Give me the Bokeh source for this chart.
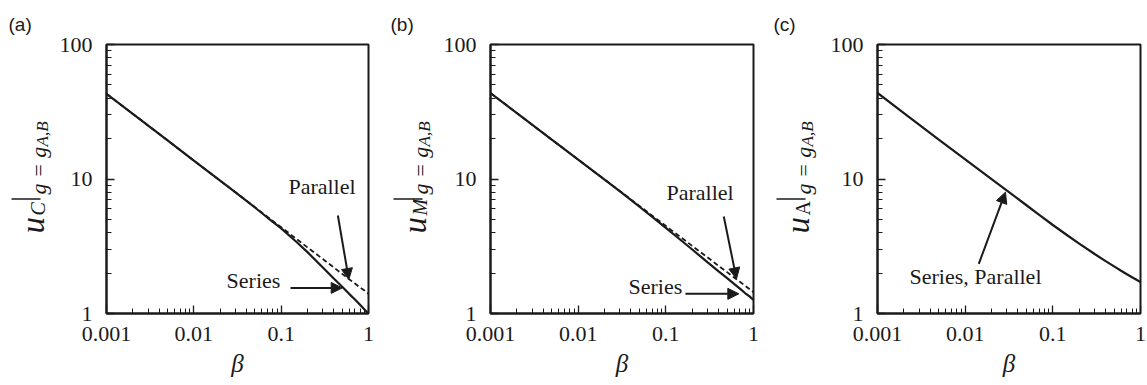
from bokeh.plotting import figure
from bokeh.models import (Range1d, FixedTicker, CustomJSTickFormatter, Label,
                          Arrow, NormalHead)
from bokeh.layouts import row
from bokeh.embed import file_html
from bokeh.resources import INLINE

# ---------------- data ----------------
beta = [0.001, 0.002, 0.005, 0.01, 0.02, 0.03, 0.05, 0.07, 0.1, 0.15,
        0.2, 0.3, 0.4, 0.5, 0.6, 0.7, 0.8, 0.9, 1.0]

uC_series   = [43.0, 30.5, 19.4, 13.7, 9.73, 7.94, 6.14, 5.15, 4.29, 3.40,
               2.86, 2.20, 1.82, 1.58, 1.40, 1.27, 1.16, 1.07, 1.00]
uC_parallel = [43.0, 30.5, 19.4, 13.7, 9.73, 7.96, 6.18, 5.22, 4.38, 3.58,
               3.10, 2.54, 2.20, 1.97, 1.80, 1.67, 1.56, 1.48, 1.40]

uM_series   = [43.5, 30.9, 19.6, 13.95, 9.91, 8.08, 6.22, 5.22, 4.33, 3.49,
               2.99, 2.40, 2.06, 1.83, 1.66, 1.53, 1.42, 1.34, 1.26]
uM_parallel = [43.5, 30.9, 19.6, 13.95, 9.91, 8.12, 6.31, 5.34, 4.48, 3.67,
               3.18, 2.61, 2.26, 2.03, 1.85, 1.72, 1.61, 1.52, 1.44]

uA_both     = [43.6, 30.9, 19.6, 14.0, 9.98, 8.18, 6.38, 5.42, 4.55, 3.77,
               3.31, 2.77, 2.45, 2.24, 2.08, 1.96, 1.86, 1.78, 1.71]

x_ticks = [0.001, 0.01, 0.1, 1]
y_ticks = [1, 10, 100]
panel_tags = ["(a)", "(b)", "(c)"]
sub_letters = ["C", "M", "A"]
x_label = "β"

SERIF = "Liberation Serif"
SANS = "Liberation Sans"
INK = "#1a1a1a"

x_minor = [m * d for d in [0.001, 0.01, 0.1] for m in range(2, 10)]
y_minor = [m * d for d in [1, 10] for m in range(2, 10)]

H = 385
FRAME_H = 269
TOP = 44
BOTTOM = H - TOP - FRAME_H
LBL_W = 52


def label_strip(tag, sub, sub_italic):
    """Narrow figure holding the panel tag and the rotated y-axis label.
    Its frame spans canvas rows TOP..TOP+FRAME_H, so data y == canvas y."""
    f = figure(width=LBL_W, height=H, x_range=Range1d(0, LBL_W),
               y_range=Range1d(TOP + FRAME_H, TOP), output_backend="svg",
               toolbar_location=None, x_axis_location=None,
               y_axis_location=None, min_border_left=0, min_border_right=0,
               min_border_top=TOP, min_border_bottom=BOTTOM)
    f.xgrid.visible = False
    f.ygrid.visible = False
    f.outline_line_color = None
    f.background_fill_color = "white"
    f.border_fill_color = "white"
    f.title.text = tag
    f.title.text_font = SANS
    f.title.text_font_size = "19px"
    f.title.text_font_style = "normal"
    f.title.text_color = INK
    f.title.align = "left"
    f.title.offset = 8
    f.title.standoff = 19
    pieces = [
        ("u", 32, 233, "33px", "italic"),
        (sub, 37, 215, "20px", "italic" if sub_italic else "normal"),
        ("g = g", 38, 194, "22px", "italic"),
        ("A,B", 42, 146, "17px", "italic"),
    ]
    for txt, cx, cy, fs, st in pieces:
        f.add_layout(Label(x=cx, y=cy, text=txt, angle=90, angle_units="deg",
                           text_font=SERIF, text_font_size=fs,
                           text_font_style=st, text_baseline="alphabetic",
                           text_color=INK))
    # the evaluation bar "|" of the label (horizontal once rotated)
    f.segment(x0=[11], y0=[198.5], x1=[40], y1=[198.5],
              line_color=INK, line_width=1.6)
    return f


def make_panel(width, left, right):
    p = figure(width=width, height=H, x_axis_type="log", y_axis_type="log",
               x_range=Range1d(0.001, 1), y_range=Range1d(1, 100),
               output_backend="svg", toolbar_location=None,
               min_border_left=left, min_border_right=right,
               min_border_top=TOP, min_border_bottom=BOTTOM)
    p.xgrid.visible = False
    p.ygrid.visible = False
    p.background_fill_color = "white"
    p.border_fill_color = "white"
    p.outline_line_color = INK
    p.outline_line_width = 2

    p.xaxis.ticker = FixedTicker(ticks=x_ticks, minor_ticks=x_minor)
    p.yaxis.ticker = FixedTicker(ticks=y_ticks, minor_ticks=y_minor)
    fmt = "return tick.toString();"
    p.xaxis.formatter = CustomJSTickFormatter(code=fmt)
    p.yaxis.formatter = CustomJSTickFormatter(code=fmt)
    for ax in (p.xaxis, p.yaxis):
        ax.axis_line_color = INK
        ax.axis_line_width = 2
        ax.major_tick_in = 8
        ax.major_tick_out = 0
        ax.minor_tick_in = 5
        ax.minor_tick_out = 0
        ax.major_tick_line_color = INK
        ax.minor_tick_line_color = INK
        ax.major_tick_line_width = 1.3
        ax.minor_tick_line_width = 1
        ax.major_label_text_font = SERIF
        ax.major_label_text_font_size = "22px"
        ax.major_label_text_color = INK
    p.xaxis.major_label_standoff = 13
    p.yaxis.major_label_standoff = 14

    p.xaxis.axis_label = x_label
    p.xaxis.axis_label_text_font = SERIF
    p.xaxis.axis_label_text_font_size = "25px"
    p.xaxis.axis_label_text_font_style = "italic"
    p.xaxis.axis_label_text_color = INK
    p.xaxis.axis_label_standoff = 6
    return p


def arrow(p, xs, ys, xe, ye):
    p.add_layout(Arrow(end=NormalHead(size=11, fill_color=INK,
                                      line_color=INK, line_width=1),
                       x_start=xs, y_start=ys, x_end=xe, y_end=ye,
                       line_width=2, line_color=INK))


def text(p, x, y, t):
    p.add_layout(Label(x=x, y=y, text=t, text_font=SERIF,
                       text_font_size="22px", text_color=INK))


# ---- panel (a)
la = label_strip(panel_tags[0], sub_letters[0], True)
pa = make_panel(382 - LBL_W, 106 - LBL_W, 14)
pa.line(beta, uC_parallel, line_color=INK, line_width=1.8, line_dash="5 3")
pa.line(beta, uC_series, line_color=INK, line_width=2.2)
text(pa, 0.121, 7.16, "Parallel")
arrow(pa, 0.446, 5.35, 0.595, 1.79)
text(pa, 0.0237, 1.41, "Series")
arrow(pa, 0.128, 1.55, 0.50, 1.55)

# ---- panel (b)
lb = label_strip(panel_tags[1], sub_letters[1], True)
pb = make_panel(383 - LBL_W, 108 - LBL_W, 12)
pb.line(beta, uM_parallel, line_color=INK, line_width=1.8, line_dash="5 3")
pb.line(beta, uM_series, line_color=INK, line_width=2.2)
text(pb, 0.1018, 6.46, "Parallel")
arrow(pb, 0.458, 5.26, 0.64, 1.81)
text(pb, 0.0375, 1.29, "Series")
arrow(pb, 0.1675, 1.40, 0.68, 1.40)

# ---- panel (c)
lc = label_strip(panel_tags[2], sub_letters[2], False)
pc = make_panel(382 - LBL_W, 112 - LBL_W, 7)
pc.line(beta, uA_both, line_color=INK, line_width=2.2)
text(pc, 0.00232, 1.53, "Series, Parallel")
arrow(pc, 0.0143, 2.34, 0.0288, 7.98)

layout = row(la, pa, lb, pb, lc, pc, spacing=0)
open("out.html", "w").write(file_html(layout, INLINE))
